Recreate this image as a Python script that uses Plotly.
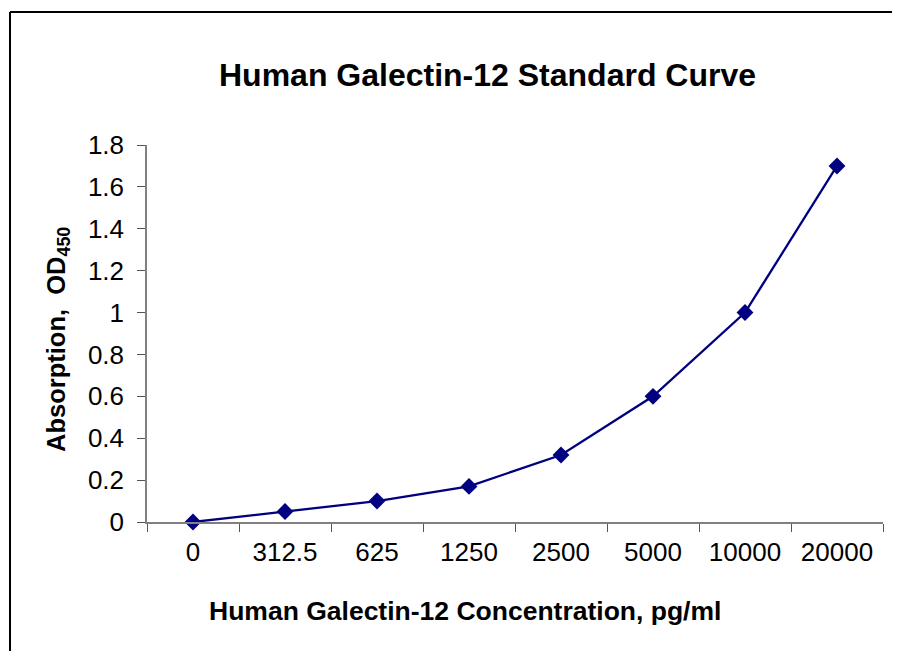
import plotly.graph_objects as go

categories = ["0", "312.5", "625", "1250", "2500", "5000", "10000", "20000"]
absorbance = [0.0, 0.05, 0.10, 0.17, 0.32, 0.60, 1.00, 1.70]
y_ticks = [0, 0.2, 0.4, 0.6, 0.8, 1.0, 1.2, 1.4, 1.6, 1.8]

FONT = "Liberation Sans, Arial, sans-serif"
W, H = 900, 651
OFF = 8  # page body margin offset
# target screen positions of the plot area
SL, SR, ST, SB = 147, 883, 145, 522
L = SL - OFF
T = ST - OFF
R = W - (SR - OFF)
B = H - (SB - OFF)
pw, ph = W - L - R, H - T - B

def px_x(x):
    return (x - OFF - L) / pw

def px_y(y):
    return (H - B - (y - OFF)) / ph

fig = go.Figure()
fig.add_trace(go.Scatter(
    x=categories, y=absorbance, mode="lines+markers",
    line=dict(color="#000080", width=2.3),
    marker=dict(symbol="diamond", size=13, color="#000080"),
    showlegend=False, cliponaxis=False,
))

fig.update_layout(
    width=W, height=H,
    margin=dict(l=L, r=R, t=T, b=B, pad=0),
    paper_bgcolor="white", plot_bgcolor="white",
    font=dict(family=FONT, color="black"),
    xaxis=dict(
        type="category", range=[-0.5, 7.5], tickson="boundaries",
        ticks="outside", ticklen=8, tickcolor="#555555", tickwidth=1,
        showline=True, linecolor="#808080", linewidth=1.5,
        showgrid=False, zeroline=False,
        tickfont=dict(size=26, family=FONT), ticklabelstandoff=6,
    ),
    yaxis=dict(
        range=[0, 1.8], tickvals=y_ticks,
        ticks="outside", ticklen=8, tickcolor="#555555", tickwidth=1,
        showline=True, linecolor="#808080", linewidth=1.5,
        showgrid=False, zeroline=False,
        tickfont=dict(size=26, family=FONT), ticklabelstandoff=8,
    ),
    shapes=[
        dict(type="line", xref="paper", yref="paper",
             x0=px_x(10), x1=px_x(10), y0=px_y(12), y1=px_y(700),
             line=dict(color="black", width=2)),
        dict(type="line", xref="paper", yref="paper",
             x0=px_x(10), x1=px_x(950), y0=px_y(12), y1=px_y(12),
             line=dict(color="black", width=2)),
    ],
    annotations=[
        dict(text="<b>Human Galectin-12 Standard Curve</b>", xref="paper", yref="paper",
             x=px_x(487), y=px_y(75), xanchor="center", yanchor="middle",
             showarrow=False, font=dict(size=32, family=FONT)),
        dict(text="<b>Human Galectin-12 Concentration, pg/ml</b>", xref="paper", yref="paper",
             x=px_x(465), y=px_y(611), xanchor="center", yanchor="middle",
             showarrow=False, font=dict(size=26.5, family=FONT)),
        dict(text="<b>Absorption,  OD<sub>450</sub></b>", xref="paper", yref="paper",
             x=px_x(58), y=px_y(340), xanchor="center", yanchor="middle", textangle=-90,
             showarrow=False, font=dict(size=25.5, family=FONT)),
    ],
)

fig.write_html("out.html")
